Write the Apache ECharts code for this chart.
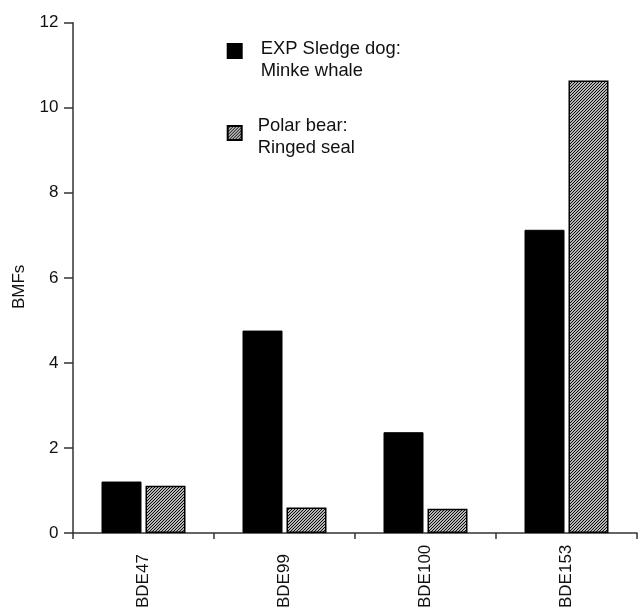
<!DOCTYPE html>
<html>
<head>
<meta charset="utf-8">
<script src="https://cdn.jsdelivr.net/npm/echarts@6/dist/echarts.min.js"></script>
<style>
html,body{margin:0;padding:0;background:#fff;}
#chart{width:638px;height:611px;}
</style>
</head>
<body>
<div id="chart"></div>
<script>
// ---- data ----
var categories = ['BDE47', 'BDE99', 'BDE100', 'BDE153'];
var seriesNames = ['EXP Sledge dog:\nMinke whale', 'Polar bear:\nRinged seal'];
var sledgeDogValues = [1.21, 4.76, 2.37, 7.13];
var polarBearValues = [1.11, 0.60, 0.57, 10.64];
var yTicks = [0, 2, 4, 6, 8, 10, 12];
var yAxisName = 'BMFs';

// ---- hatch pattern ----
function makeHatch() {
  var s = 3;
  var c = document.createElement('canvas');
  c.width = s; c.height = s;
  var ctx = c.getContext('2d');
  ctx.fillStyle = '#ffffff';
  ctx.fillRect(0, 0, s, s);
  ctx.strokeStyle = '#000000';
  ctx.lineWidth = 1.1;
  ctx.beginPath();
  ctx.moveTo(-1, s + 1); ctx.lineTo(s + 1, -1);
  ctx.moveTo(-1, 1); ctx.lineTo(1, -1);
  ctx.moveTo(s - 1, s + 1); ctx.lineTo(s + 1, s - 1);
  ctx.stroke();
  return c;
}
var hatch = { image: makeHatch(), repeat: 'repeat' };

var FONT = '"Liberation Sans", Arial, Helvetica, sans-serif';
var LH = 21.7;
var H1 = 17.7, H2 = 7.7;

function legendFmt(name) { return '{s| }\n' + name; }

function legendText(h, padLeft) {
  return {
    fontSize: 18.4, color: '#111', lineHeight: LH, fontFamily: FONT, padding: [0, 0, 0, padLeft],
    rich: { s: { fontSize: 4, lineHeight: h, height: h } }
  };
}

var chart = echarts.init(document.getElementById('chart'), null, { renderer: 'canvas' });
chart.setOption({
  animation: false,
  backgroundColor: '#ffffff',
  textStyle: { fontFamily: FONT },
  grid: { left: 73, right: 1, top: 22.7, bottom: 77.7, containLabel: false },
  legend: [
    {
      data: [seriesNames[0]],
      left: 226.7, top: 44 + 7 - (H1 + 2 * LH) / 2,
      padding: 0,
      itemWidth: 14, itemHeight: 14,
      icon: 'rect',
      selectedMode: false,
      formatter: legendFmt,
      textStyle: legendText(H1, 14)
    },
    {
      data: [seriesNames[1]],
      left: 226.7, top: 126 + 7 - (H2 + 2 * LH) / 2,
      padding: 0,
      itemWidth: 14, itemHeight: 14,
      icon: 'rect',
      selectedMode: false,
      formatter: legendFmt,
      textStyle: legendText(H2, 11)
    }
  ],
  xAxis: {
    type: 'category',
    data: categories,
    boundaryGap: true,
    axisLine: { show: true, lineStyle: { color: '#333', width: 1.5 } },
    axisTick: { show: true, inside: false, length: 6, alignWithLabel: false, lineStyle: { color: '#333', width: 1.5 } },
    axisLabel: { rotate: 90, align: 'left', verticalAlign: 'middle', margin: 75, fontSize: 17, color: '#111', fontFamily: FONT, interval: 0 },
    splitLine: { show: false }
  },
  yAxis: {
    type: 'value',
    min: 0, max: 12, interval: 2,
    name: yAxisName,
    nameLocation: 'middle',
    nameGap: 45,
    nameRotate: 90,
    nameTextStyle: { fontSize: 17, color: '#111', fontFamily: FONT, padding: [0, 18, 0, 0] },
    axisLine: { show: true, lineStyle: { color: '#333', width: 1.5 } },
    axisTick: { show: true, inside: false, length: 9, lineStyle: { color: '#333', width: 1.5 } },
    axisLabel: {
      margin: 14.5, fontSize: 17, color: '#111', fontFamily: FONT,
      formatter: function (v) { return yTicks.indexOf(v) >= 0 ? String(v) : ''; }
    },
    splitLine: { show: false }
  },
  series: [
    {
      name: seriesNames[0],
      type: 'bar',
      data: sledgeDogValues,
      barWidth: 40,
      barGap: '10%',
      itemStyle: { color: '#000000', borderColor: '#000000', borderWidth: 1 }
    },
    {
      name: seriesNames[1],
      type: 'bar',
      data: polarBearValues,
      barWidth: 40,
      barGap: '10%',
      itemStyle: { color: hatch, borderColor: '#000000', borderWidth: 1.5 }
    }
  ]
});
</script>
</body>
</html>
